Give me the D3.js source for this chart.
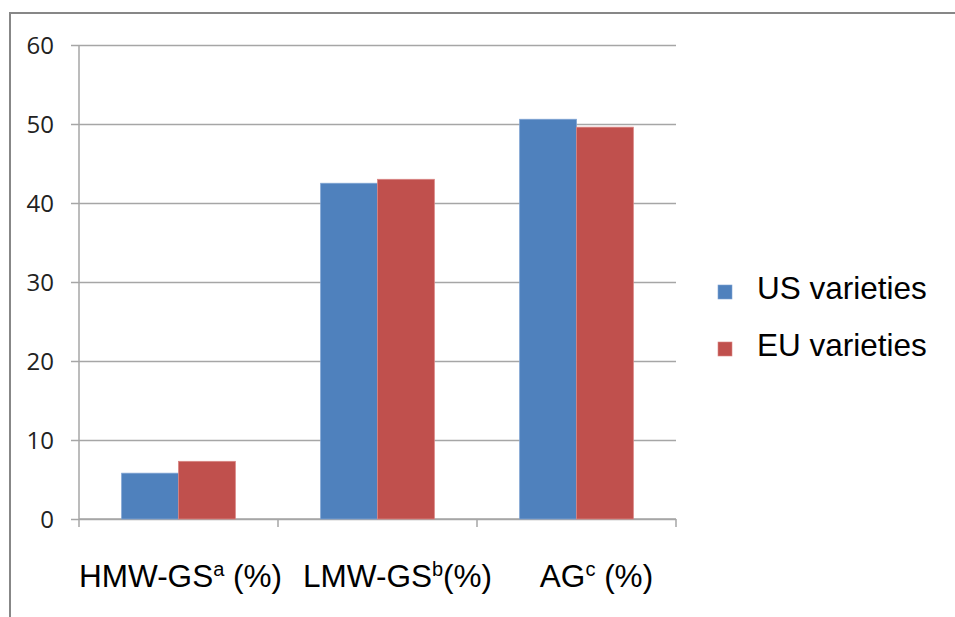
<!DOCTYPE html>
<html>
<head>
<meta charset="utf-8">
<script src="https://cdn.jsdelivr.net/npm/d3@7"></script>
<style>
  html, body { margin: 0; padding: 0; background: #fff; }
  svg { display: block; }
</style>
</head>
<body>
<svg id="chart" width="955" height="617"></svg>
<script>
// Gluten fraction shares by variety origin
const categories = ["HMW-GS", "LMW-GS", "AG"];
const superscripts = ["a", "b", "c"];
const labelTails = [" (%)", "(%)", " (%)"];
const seriesNames = ["US varieties", "EU varieties"];
const usValues = [5.8, 42.5, 50.6];
const euValues = [7.3, 43.0, 49.6];
const yTicks = [0, 10, 20, 30, 40, 50, 60];

const colors = ["#4F81BD", "#C0504D"];
const strokes = ["#7FA3D3", "#D98583"];
const seriesValues = [usValues, euValues];

const svg = d3.select("#chart");

const plot = { left: 79, right: 676, top: 45, bottom: 519 };

const x = d3.scaleBand()
  .domain(categories)
  .range([plot.left, plot.right])
  .paddingInner(0)
  .paddingOuter(0);

const x1 = d3.scaleBand()
  .domain(seriesNames)
  .range([0, x.bandwidth()])
  .paddingInner(0)
  .paddingOuter(0.75);

const y = d3.scaleLinear()
  .domain([0, 60])
  .range([plot.bottom, plot.top]);

// Outer frame (top and left edges of the chart area)
svg.append("path")
  .attr("d", "M10,955 L10,13 L955,13")
  .attr("fill", "none")
  .attr("stroke", "#878787")
  .attr("stroke-width", 2);

// Horizontal gridlines with left tick stubs
const yAxis = d3.axisLeft(y)
  .tickValues(yTicks)
  .tickSize(-(plot.right - plot.left))
  .tickPadding(0)
  .tickFormat(d3.format("d"));

const gy = svg.append("g")
  .attr("transform", `translate(${plot.left},0)`)
  .call(yAxis);
gy.select(".domain").remove();
gy.selectAll(".tick line")
  .attr("x1", -8)
  .attr("stroke", "#a6a6a6")
  .attr("stroke-width", 1.5);
gy.selectAll(".tick text")
  .attr("x", -25)
  .attr("dy", "0.36em")
  .attr("fill", "#222")
  .style("font-family", "'Open Sans', sans-serif")
  .style("font-size", "24px")
  .attr("text-anchor", "end");

// Vertical axis line
svg.append("line")
  .attr("x1", plot.left).attr("x2", plot.left)
  .attr("y1", y(60)).attr("y2", y(0))
  .attr("stroke", "#a6a6a6")
  .attr("stroke-width", 1.5);

// Category axis: baseline and boundary ticks
const bounds = categories.map(c => x(c)).concat([x(categories[categories.length - 1]) + x.bandwidth()]);
svg.append("line")
  .attr("x1", plot.left).attr("x2", plot.right)
  .attr("y1", y(0)).attr("y2", y(0))
  .attr("stroke", "#a6a6a6")
  .attr("stroke-width", 1.5);
svg.selectAll(".xtick")
  .data(bounds)
  .enter().append("line")
  .attr("class", "xtick")
  .attr("x1", d => d).attr("x2", d => d)
  .attr("y1", y(0)).attr("y2", y(0) + 8)
  .attr("stroke", "#a6a6a6")
  .attr("stroke-width", 1.5);

// Bars
const groups = svg.selectAll(".cat")
  .data(categories)
  .enter().append("g")
  .attr("class", "cat")
  .attr("transform", d => `translate(${x(d)},0)`);

groups.selectAll("rect")
  .data((d, i) => seriesNames.map((s, j) => ({ s, j, v: seriesValues[j][i] })))
  .enter().append("rect")
  .attr("x", d => x1(d.s))
  .attr("width", x1.bandwidth())
  .attr("y", d => y(d.v))
  .attr("height", d => y(0) - y(d.v))
  .attr("fill", d => colors[d.j])
  .attr("stroke", d => strokes[d.j])
  .attr("stroke-width", 0.8);

// Category labels with superscript markers
const labelShift = [2, 20, 20];
const labels = svg.selectAll(".cat-label")
  .data(categories)
  .enter().append("text")
  .attr("class", "cat-label")
  .attr("x", (d, i) => x(d) + x.bandwidth() / 2 + labelShift[i])
  .attr("y", 587)
  .attr("text-anchor", "middle")
  .style("font-family", "'Liberation Sans', Arial, sans-serif")
  .style("font-size", "31.5px")
  .attr("fill", "#000");
labels.append("tspan").text(d => d);
labels.append("tspan")
  .attr("dy", -11)
  .style("font-size", "20px")
  .text((d, i) => superscripts[i]);
labels.append("tspan")
  .attr("dy", 11)
  .text((d, i) => labelTails[i]);

// Legend
const legend = svg.selectAll(".legend")
  .data(seriesNames)
  .enter().append("g")
  .attr("class", "legend")
  .attr("transform", (d, i) => `translate(718,${285 + i * 57})`);
legend.append("rect")
  .attr("width", 14).attr("height", 14)
  .attr("fill", (d, i) => colors[i])
  .attr("stroke", (d, i) => strokes[i])
  .attr("stroke-width", 0.6);
legend.append("text")
  .attr("x", 39)
  .attr("y", 14)
  .style("font-family", "'Liberation Sans', Arial, sans-serif")
  .style("font-size", "31.5px")
  .attr("fill", "#000")
  .text(d => d);
</script>
</body>
</html>
